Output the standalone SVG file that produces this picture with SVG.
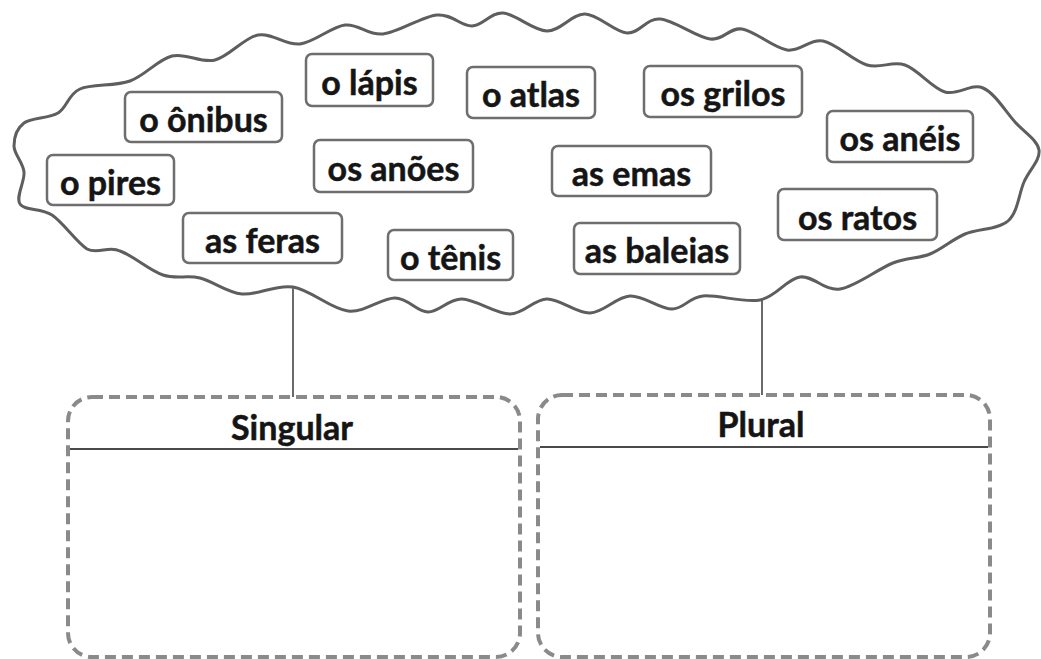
<svg xmlns="http://www.w3.org/2000/svg" width="1041" height="659" viewBox="0 0 1041 659">
<style>
.cloud{fill:#fff;stroke:#5e5e5e;stroke-width:3}
.word rect{fill:#fff;stroke:#6e6e6e;stroke-width:2.5}
.word text,.cat text{font-family:Lato,"Liberation Sans",sans-serif;font-weight:bold;font-size:34px;fill:#151515;stroke:#151515;stroke-width:0.5;text-anchor:middle}
.cat rect{fill:none;stroke:#8a8a8a;stroke-width:4;stroke-dasharray:11 6}
.cat line{stroke:#4a4a4a;stroke-width:2}
.conn line{stroke:#6a6a6a;stroke-width:2}
</style>
<rect width="1041" height="659" fill="#fff"/>
<g id="cloud">
<path class="cloud" d="M14,146 C14,137.83 16.67,128.5 24,123 C31.33,117.5 48.67,118.67 58,113 C67.33,107.33 68,94.33 80,89 C92,83.67 114.67,86.5 130,81 C145.33,75.5 157.83,59.5 172,56 C186.17,52.5 200.67,63.5 215,60 C229.33,56.5 243.83,37.67 258,35 C272.17,32.33 285.5,45.67 300,44 C314.5,42.33 331.17,26.67 345,25 C358.83,23.33 367.67,35.67 383,34 C398.33,32.33 422.17,16.33 437,15 C451.83,13.67 461,26.33 472,26 C483,25.67 490.5,12.17 503,13 C515.5,13.83 533.33,30.83 547,31 C560.67,31.17 571.67,13.67 585,14 C598.33,14.33 614.5,32.17 627,33 C639.5,33.83 646.17,18 660,19 C673.83,20 696.33,37.33 710,39 C723.67,40.67 729.17,27.17 742,29 C754.83,30.83 773.5,48 787,50 C800.5,52 809.67,38.5 823,41 C836.33,43.5 853.33,61 867,65 C880.67,69 892,60.5 905,65 C918,69.5 932,88.17 945,92 C958,95.83 971.33,83 983,88 C994.67,93 1005.67,111.67 1015,122 C1024.33,132.33 1037.5,140 1039,150 C1040.5,160 1029.17,170.17 1024,182 C1018.83,193.83 1017.83,212.33 1008,221 C998.17,229.67 978,228.5 965,234 C952,239.5 942,249.17 930,254 C918,258.83 908,257.17 893,263 C878,268.83 855.5,286.67 840,289 C824.5,291.33 813.33,275.17 800,277 C786.67,278.83 776.17,296.83 760,300 C743.83,303.17 717.67,294.5 703,296 C688.33,297.5 684.17,309 672,309 C659.83,309 643.67,295.33 630,296 C616.33,296.67 603.83,312.5 590,313 C576.17,313.5 560.33,298.83 547,299 C533.67,299.17 524.17,314 510,314 C495.83,314 475.67,299.33 462,299 C448.33,298.67 439.17,312.17 428,312 C416.83,311.83 408.33,298.17 395,298 C381.67,297.83 365,312.83 348,311 C331,309.17 310.67,289.83 293,287 C275.33,284.17 257.5,295.5 242,294 C226.5,292.5 213.17,281.17 200,278 C186.83,274.83 176.33,279.5 163,275 C149.67,270.5 132.67,255.33 120,251 C108.67,245 98.33,255 87,249 C75.83,241.5 63.17,222.5 52,215 C40.83,207.5 24.67,211.17 20,204 C15.33,196.83 25,181.67 24,172 C23,162.33 14,154.17 14,146 Z"/>
</g>
<g id="connectors" class="conn">
<line x1="293" y1="288" x2="293" y2="397"/>
<line x1="762" y1="301" x2="762" y2="395"/>
</g>
<g id="w-onibus" class="word"><rect x="125" y="92" width="157" height="50" rx="6"/><text x="203.5" y="132">o ônibus</text></g>
<g id="w-lapis" class="word"><rect x="306" y="54" width="127" height="52" rx="6"/><text x="369.5" y="95">o lápis</text></g>
<g id="w-atlas" class="word"><rect x="467" y="67" width="128" height="51" rx="6"/><text x="531" y="107">o atlas</text></g>
<g id="w-grilos" class="word"><rect x="644" y="66" width="158" height="51" rx="6"/><text x="723" y="106">os grilos</text></g>
<g id="w-aneis" class="word"><rect x="827" y="111" width="146" height="51" rx="6"/><text x="900" y="151">os anéis</text></g>
<g id="w-pires" class="word"><rect x="47" y="155" width="127" height="50" rx="6"/><text x="110.5" y="195">o pires</text></g>
<g id="w-anoes" class="word"><rect x="314" y="140" width="159" height="52" rx="6"/><text x="393.5" y="181">os anões</text></g>
<g id="w-emas" class="word"><rect x="552" y="146" width="159" height="50" rx="6"/><text x="631.5" y="186">as emas</text></g>
<g id="w-ratos" class="word"><rect x="778" y="189" width="159" height="51" rx="6"/><text x="857.5" y="230">os ratos</text></g>
<g id="w-feras" class="word"><rect x="183" y="213" width="159" height="50" rx="6"/><text x="262.5" y="253">as feras</text></g>
<g id="w-tenis" class="word"><rect x="388" y="230" width="125" height="50" rx="6"/><text x="450.5" y="270">o tênis</text></g>
<g id="w-baleias" class="word"><rect x="574" y="223" width="166" height="51" rx="6"/><text x="657" y="263">as baleias</text></g>
<g id="singular" class="cat"><rect x="68" y="397" width="452" height="260" rx="24"/><line x1="70" y1="449" x2="518" y2="449"/><text x="292" y="440">Singular</text></g>
<g id="plural" class="cat"><rect x="538" y="395" width="452" height="262" rx="24"/><line x1="540" y1="447" x2="988" y2="447"/><text x="761" y="437">Plural</text></g>
</svg>
